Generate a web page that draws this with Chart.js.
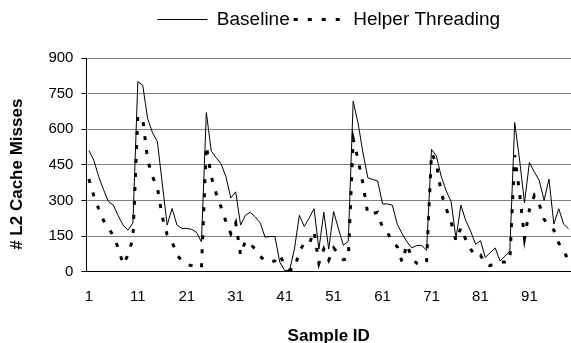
<!DOCTYPE html>
<html>
<head>
<meta charset="utf-8">
<script src="https://cdn.jsdelivr.net/npm/chart.js@4.4.1/dist/chart.umd.min.js"></script>
<style>
  html, body { margin: 0; padding: 0; background: #fff; }
  #wrap { width: 571px; height: 343px; }
</style>
</head>
<body>
<div id="wrap"><canvas id="chart" width="571" height="343"></canvas></div>
<script>
"use strict";

// sample ids 1..99 on the category axis
var sampleIds = [];
for (var i = 1; i <= 99; i++) sampleIds.push(String(i));

var xTickLabels = ["1", "11", "21", "31", "41", "51", "61", "71", "81", "91"];

var baseline = [
  510, 470, 400, 345, 295, 280, 235, 195, 175, 205,
  800, 785, 645, 585, 548, 370, 196, 266, 196, 182,
  182, 178, 165, 125, 670, 508, 480, 455, 400, 310,
  336, 196, 238, 250, 230, 205, 145, 148, 148, 40,
  5, 5, 95, 237, 190, 225, 265, 95, 250, 95,
  253, 180, 111, 128, 718, 625, 500, 395, 388, 382,
  285, 285, 280, 200, 160, 125, 100, 110, 110, 90,
  515, 487, 400, 340, 295, 140, 280, 215, 170, 115,
  130, 60, 80, 100, 45, 65, 85, 628, 470, 290,
  460, 420, 385, 300, 390, 200, 265, 200, 180
];

var helperThreading = [
  390, 320, 265, 215, 185, 150, 100, 30, 70, 140,
  655, 645, 470, 400, 355, 230, 155, 125, 70, 45,
  30, 25, 20, 15, 530, 400, 330, 272, 210, 160,
  205, 70, 130, 115, 95, 65, 45, 40, 45, 72,
  25, 8, 10, 85, 120, 115, 170, 35, 95, 48,
  100, 75, 50, 55, 560, 470, 370, 240, 245, 250,
  185, 165, 125, 105, 40, 115, 55, 35, 25, 45,
  500, 455, 330, 265, 210, 130, 185, 135, 95, 65,
  70, 30, 25, 35, 40, 40, 45, 490, 330, 140,
  260, 320, 285, 220, 195, 175, 120, 90, 45
];

var ctx = document.getElementById("chart").getContext("2d");

var tickFont = { family: "Liberation Sans", size: 15 };
var titleFont = { family: "Liberation Sans", size: 17, weight: "bold" };

// give the legend some extra room below it
var legendSpacer = {
    id: "legendSpacer",
    beforeInit: function (chart) {
        var fit = chart.legend.fit;
        chart.legend.fit = function () {
            fit.bind(chart.legend)();
            this.height += 19;
        };
    },
};

var myChart = new Chart(ctx, {
    type: "line",
    data: {
        labels: sampleIds,
        datasets: [
            {
                label: "Baseline",
                data: baseline,
                borderColor: "#000",
                backgroundColor: "#000",
                borderWidth: 1,
                pointRadius: 0,
                tension: 0,
                fill: false,
            },
            {
                label: "Helper Threading",
                data: helperThreading,
                borderColor: "#000",
                backgroundColor: "#000",
                borderWidth: 3,
                borderDash: [4, 10],
                borderCapStyle: "butt",
                pointRadius: 0,
                tension: 0,
                fill: false,
            },
        ],
    },
    options: {
        responsive: false,
        animation: false,
        devicePixelRatio: 1,
        layout: { padding: { left: 7, right: 0, top: 6, bottom: 0 } },
        plugins: {
            legend: {
                position: "top",
                fullSize: false,
                labels: {
                    usePointStyle: true,
                    pointStyle: "line",
                    pointStyleWidth: 50,
                    color: "#000",
                    font: { family: "Liberation Sans", size: 19 },
                    padding: 4,
                    generateLabels: function (chart) {
                        var items = Chart.defaults.plugins.legend.labels.generateLabels(chart);
                        items.forEach(function (item) {
                            var ds = chart.data.datasets[item.datasetIndex];
                            item.lineDash = ds.borderDash || [];
                            item.lineWidth = ds.borderWidth;
                        });
                        return items;
                    },
                },
            },
            tooltip: { enabled: false },
        },
        scales: {
            x: {
                type: "category",
                offset: true,
                grid: { display: false },
                border: { color: "#000", width: 1 },
                ticks: {
                    autoSkip: false,
                    maxRotation: 0,
                    color: "#000",
                    font: tickFont,
                    padding: 8,
                    callback: function (value) {
                        var l = this.getLabelForValue(value);
                        return xTickLabels.indexOf(l) >= 0 ? l : null;
                    },
                },
                title: { display: true, text: "Sample ID", color: "#000", font: titleFont, padding: { top: 13, bottom: -4 } },
            },
            y: {
                min: 0,
                max: 900,
                ticks: { stepSize: 150, color: "#000", font: tickFont, padding: 8 },
                grid: { color: "#808080", tickLength: 5, tickColor: "#000" },
                border: { color: "#000", width: 1 },
                title: { display: true, text: "# L2 Cache Misses    ", color: "#000", font: titleFont, padding: { top: 0, bottom: 13 } },
            },
        },
    },
    plugins: [legendSpacer],
});
</script>
</body>
</html>
